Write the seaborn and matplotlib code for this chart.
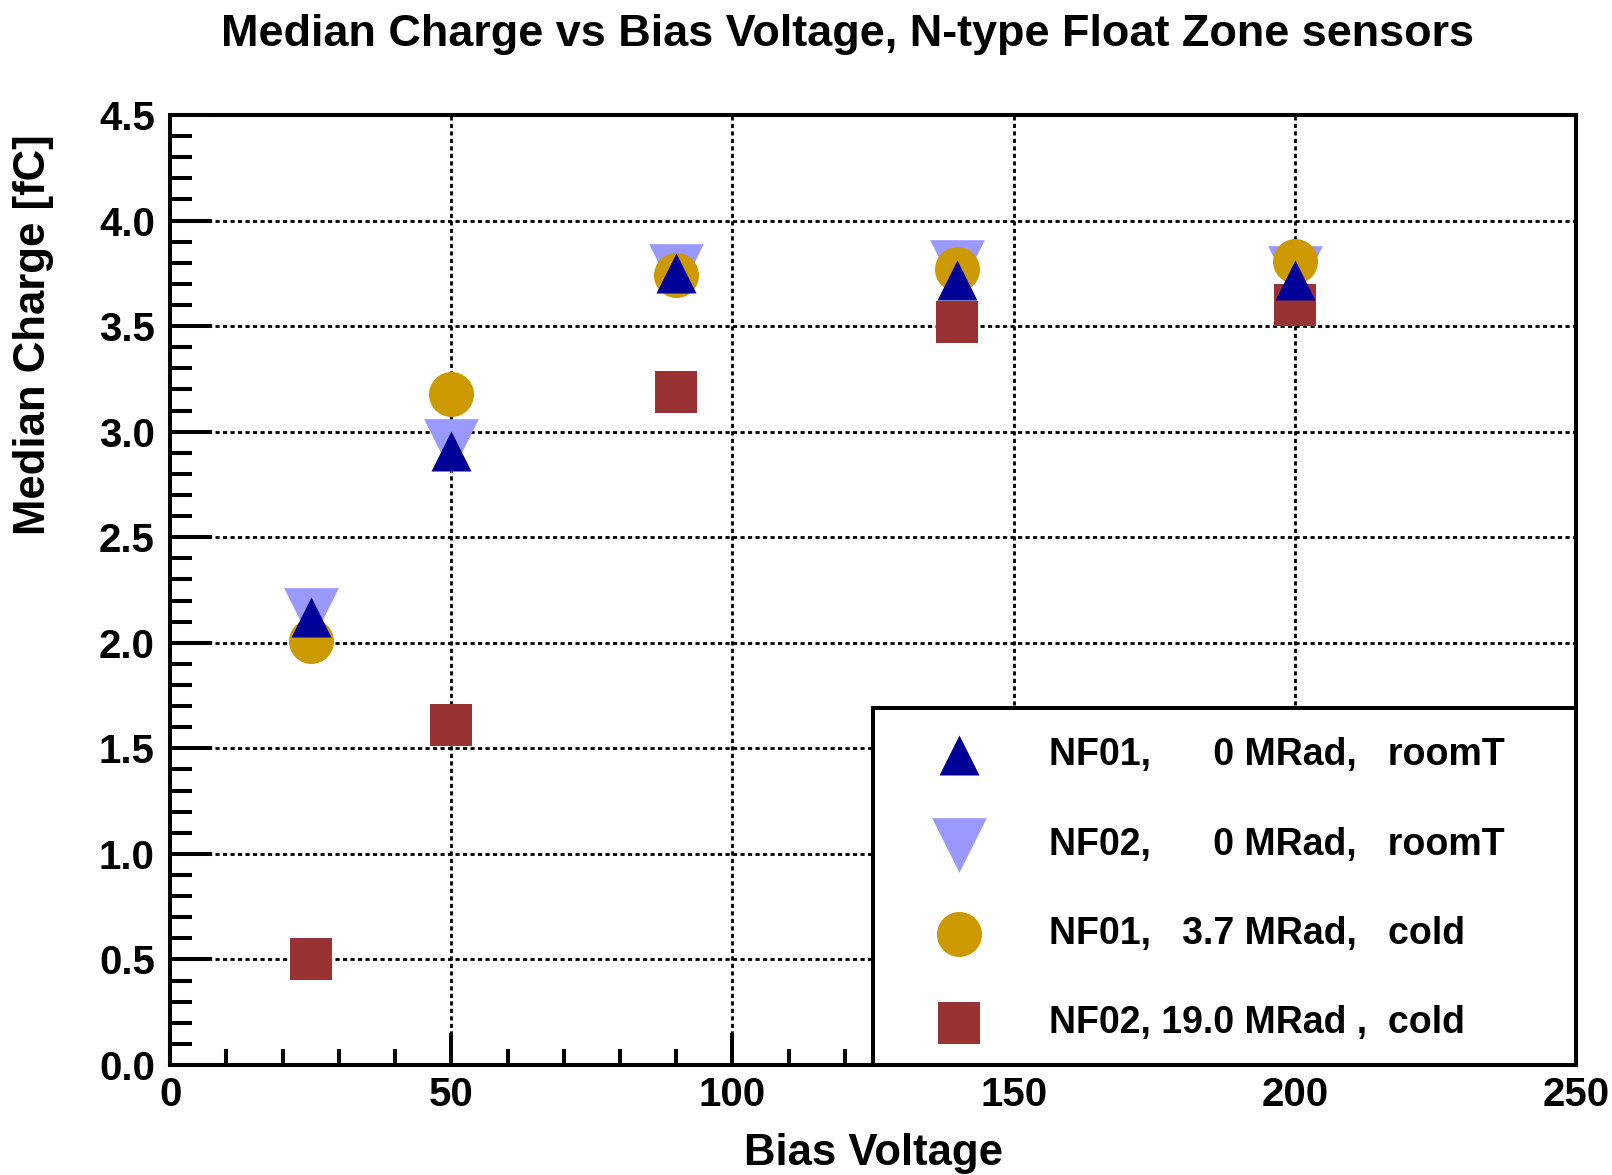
import pandas as pd
import seaborn as sns
import matplotlib.pyplot as plt
from matplotlib.patches import Rectangle
from matplotlib.ticker import MultipleLocator

# bias voltages [V] and median charge [fC] per sensor / condition
voltage = [25, 50, 90, 140, 200]
nf01_room = [2.12, 2.91, 3.75, 3.72, 3.72]
nf02_room = [2.13, 2.93, 3.76, 3.78, 3.75]
nf01_cold = [2.01, 3.18, 3.74, 3.77, 3.81]
nf02_cold = [0.50, 1.61, 3.19, 3.52, 3.60]

labels = ["NF01,      0 MRad,   roomT",
          "NF02,      0 MRad,   roomT",
          "NF01,   3.7 MRad,   cold",
          "NF02, 19.0 MRad ,  cold"]

series = [nf01_room, nf02_room, nf01_cold, nf02_cold]
df = pd.concat([pd.DataFrame({'voltage': voltage, 'charge': s, 'sample': lab})
                for s, lab in zip(series, labels)], ignore_index=True)

sns.set_style("ticks")
plt.rcParams['font.family'] = ['Liberation Sans', 'DejaVu Sans']
plt.rcParams['font.weight'] = 'bold'
for key in ['text.color', 'axes.labelcolor', 'xtick.color', 'ytick.color',
            'axes.edgecolor']:
    plt.rcParams[key] = 'black'

fig = plt.figure(figsize=(16.12, 11.75), dpi=100)
ax = fig.add_axes([0.1055, 0.0936, 0.8722, 0.8085])

# marker style per sample, drawing order chosen like the original
styles = {
    labels[1]: dict(marker='v', color='#9999ff', s=1550, zorder=2),
    labels[2]: dict(marker='o', color='#cc9900', s=1050, zorder=3),
    labels[3]: dict(marker='s', color='#993333', s=950, zorder=4),
    labels[0]: dict(marker='^', color='#000099', s=830, zorder=5),
}
for lab, st in styles.items():
    sub = df[df['sample'] == lab]
    sns.scatterplot(data=sub, x='voltage', y='charge', ax=ax, label=lab,
                    marker=st['marker'], color=st['color'], s=st['s'],
                    linewidth=0, zorder=st['zorder'], legend=False)

ax.set_xlim(0, 250)
ax.set_ylim(0, 4.5)
ax.xaxis.set_major_locator(MultipleLocator(50))
ax.xaxis.set_minor_locator(MultipleLocator(10))
ax.yaxis.set_major_locator(MultipleLocator(0.5))
ax.yaxis.set_minor_locator(MultipleLocator(0.1))
ax.xaxis.set_major_formatter(lambda v, p: f"{v:.0f}")
ax.yaxis.set_major_formatter(lambda v, p: f"{v:.1f}")

ax.set_axisbelow(True)
ax.grid(True, which='major', color='black', linestyle=(0, (1.5, 1.2)), linewidth=2)

ax.tick_params(axis='both', which='both', direction='in', top=False, right=False,
               width=2.9, color='black', labelcolor='black', labelsize=29)
ax.tick_params(axis='y', which='major', length=30, pad=11)
ax.tick_params(axis='y', which='minor', length=16)
ax.tick_params(axis='x', which='major', length=23, pad=8)
ax.tick_params(axis='x', which='minor', length=11.5)
for sp in ax.spines.values():
    sp.set_linewidth(2.9)
    sp.set_color('black')

ax.set_xlabel('Bias Voltage', fontsize=31.5, fontweight='bold', color='black')
ax.xaxis.set_label_coords(0.5, -0.093)
ax.xaxis.label.set_va('center')
ax.set_ylabel('Median Charge [fC]', fontsize=31.5, fontweight='bold', color='black')
ax.yaxis.label.set_rotation_mode('anchor')
ax.yaxis.label.set_ha('right')
ax.yaxis.label.set_va('center')
ax.yaxis.set_label_coords(-0.0974, 0.98)

fig.suptitle('Median Charge vs Bias Voltage, N-type Float Zone sensors',
             x=0.526, y=0.971, va='center', fontsize=32.4, fontweight='bold',
             color='black')

# legend box
ax.add_patch(Rectangle((0.5, 0), 0.5, 0.376, transform=ax.transAxes,
                       facecolor='white', edgecolor='black', linewidth=2.9,
                       zorder=4, clip_on=False))
handles, labs = ax.get_legend_handles_labels()
order = [labs.index(l) for l in labels]
leg = ax.legend([handles[i] for i in order], [labs[i] for i in order],
                loc='upper left', bbox_to_anchor=(0.541, 0.345), frameon=False,
                fontsize=27, borderpad=0, borderaxespad=0, handlelength=1.5,
                handletextpad=1.65, labelspacing=1.42, scatterpoints=1)
for t in leg.get_texts():
    t.set_color('black')
leg.set_zorder(6)

fig.savefig('out.png', dpi=100)
